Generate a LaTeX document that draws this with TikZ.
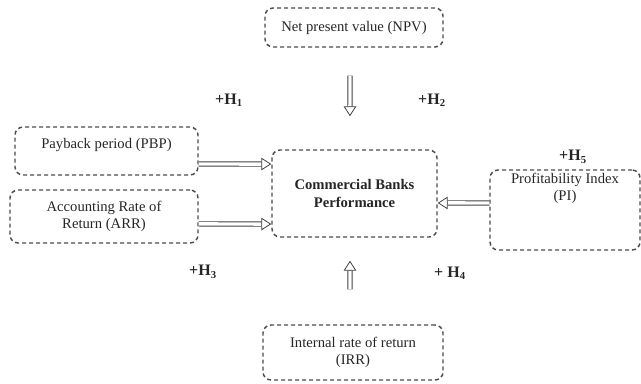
\documentclass[tikz,border=0pt]{standalone}
\usepackage{fontspec}
\setmainfont{Liberation Serif}
\usetikzlibrary{arrows.meta}

\tikzset{
  factor/.style={draw=black!70, line width=1.1pt, dash pattern=on 3pt off 2.25pt,
    rounded corners=6pt, align=center, inner sep=2pt, text=black!85,
    font=\fontsize{11}{13}\selectfont},
  hollow/.style={draw=black!75, line width=0.6pt, double, double distance=2.6pt,
    -{Triangle[open, length=7.5pt, width=9.5pt]}},
  hyp/.style={text=black!85, font=\fontsize{12}{14}\selectfont\bfseries}
}

\begin{document}
\begin{tikzpicture}[x=0.75pt, y=-0.75pt]
  \useasboundingbox (0,0) rectangle (641,384);
  % determinants
  \node[factor, minimum width=133.5pt, minimum height=29.25pt] (npv) at (354,27.5) {Net present value (NPV)};
  \node[factor, minimum width=137.25pt, minimum height=36pt, text depth=11.5pt] (pbp) at (106.5,151) {Payback period (PBP)};
  \node[factor, minimum width=141pt, minimum height=39.75pt] (arr) at (104,216.5) {Accounting Rate of\\Return (ARR)};
  \node[factor, minimum width=123.75pt, minimum height=65.25pt, font=\fontsize{11}{13}\selectfont\bfseries] (cbp) at (354.5,193.5) {Commercial Banks\\Performance};
  \node[factor, minimum width=112.5pt, minimum height=60pt, text depth=35pt] (pi) at (565,210) {Profitability Index\\(PI)};
  \node[factor, minimum width=135pt, minimum height=41.25pt] (irr) at (353,352.5) {Internal rate of return\\(IRR)};
  % hypotheses
  \node[hyp] (h1) at (229,100) {+H\textsubscript{1}};
  \node[hyp] (h2) at (432,100) {+H\textsubscript{2}};
  \node[hyp] (h3) at (203,272) {+H\textsubscript{3}};
  \node[hyp] (h4) at (450,273) {+ H\textsubscript{4}};
  \node[hyp] (h5) at (573,157) {+H\textsubscript{5}};
  % effects
  \draw[hollow] ([xshift=-3pt, yshift=-21pt]npv.south) -- ([xshift=-3.4pt, yshift=24.75pt]cbp.north);
  \draw[hollow] ([xshift=-2.25pt, yshift=26.25pt]irr.north) -- ([xshift=-3.4pt, yshift=-17.25pt]cbp.south);
  \draw[hollow] ([yshift=-9.75pt]pbp.east) -- ([yshift=22.1pt]cbp.west);
  \draw[hollow] ([yshift=-5.6pt]arr.east) -- ([yshift=-22.9pt]cbp.west);
  \draw[hollow] ([yshift=5.25pt]pi.west) -- ([yshift=-7.1pt]cbp.east);
\end{tikzpicture}
\end{document}
